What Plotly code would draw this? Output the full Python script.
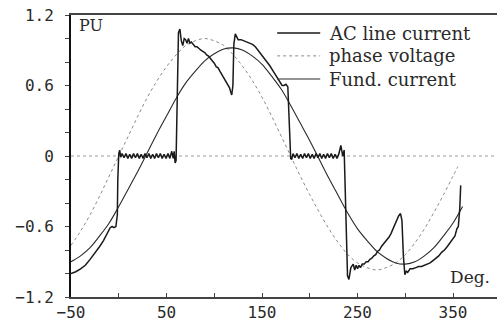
import plotly.graph_objects as go

# ---------------- data ----------------
volt_deg = [-50, -40, -30, -20, -10, 0, 10, 20, 30, 40, 50, 60, 70, 80, 90, 100,
            110, 120, 130, 140, 150, 160, 170, 180, 190, 200, 210, 220, 230, 240,
            250, 260, 270, 280, 290, 300, 310, 320, 330, 340, 350, 355]
volt_pu = [-0.76, -0.64, -0.50, -0.34, -0.17, 0.00, 0.17, 0.34, 0.50, 0.64, 0.76,
           0.86, 0.94, 0.98, 1.00, 0.98, 0.94, 0.86, 0.76, 0.64, 0.50, 0.34, 0.17,
           0.00, -0.17, -0.33, -0.48, -0.62, -0.74, -0.84, -0.91, -0.95, -0.97,
           -0.95, -0.91, -0.84, -0.74, -0.62, -0.48, -0.33, -0.17, -0.09]

fund_deg = [-50, -40, -30, -20, -10, 0, 10, 20, 30, 40, 50, 60, 70, 80, 90, 100,
            110, 120, 130, 140, 150, 160, 170, 180, 190, 200, 210, 220, 230, 240,
            250, 260, 270, 280, 290, 300, 310, 320, 330, 340, 350, 360]
fund_pu = [-0.90, -0.85, -0.78, -0.68, -0.57, -0.43, -0.28, -0.13, 0.03, 0.19,
           0.34, 0.49, 0.62, 0.72, 0.81, 0.87, 0.91, 0.92, 0.90, 0.85, 0.78, 0.68,
           0.57, 0.43, 0.28, 0.13, -0.03, -0.19, -0.34, -0.49, -0.62, -0.72,
           -0.81, -0.87, -0.91, -0.92, -0.90, -0.85, -0.78, -0.68, -0.57, -0.43]

line_deg = [-50, -45, -40, -35, -30, -25, -20, -16, -12, -9, -7, -5, -3, -1.5, -1,
            0, 1, 2, 3.5, 5.5, 7.5, 9.5, 11.5, 13.5, 15.5, 17.5, 19.5, 21.5, 23.5,
            25.5, 27.5, 29.5, 31.5, 33.5, 35.5, 37.5, 39.5, 41.5, 43.5, 45.5, 47.5,
            49.5, 51.5, 53.5, 55.5, 57, 58, 59, 60, 61, 62.5, 64, 65.5, 67, 68.5,
            70, 71.5, 73, 74.5, 76, 78, 80, 82, 84, 86, 88, 90, 92, 94, 96, 98, 100,
            102, 104, 106, 108, 110, 112, 114, 116, 117, 118.3, 119.5, 120.5, 122,
            123.5, 125, 128, 131, 134, 137, 140, 143, 146, 149, 152, 155, 158, 161,
            164, 167, 169, 171, 173, 175, 177, 178, 179, 180, 181, 182.5, 184.5,
            186.5, 188.5, 190.5, 192.5, 194.5, 196.5, 198.5, 200.5, 202.5, 204.5,
            206.5, 208.5, 210.5, 212.5, 214.5, 216.5, 218.5, 220.5, 222.5, 224.5,
            226.5, 228.5, 230.5, 232.5, 234.5, 236, 237, 238.5, 239.5, 241, 243,
            245.5, 247, 248.5, 250, 251.5, 253, 255, 257, 259, 261, 263, 265, 267,
            269, 271, 273, 275, 277, 279, 281, 283, 285, 287, 289, 291, 293, 295,
            296.5, 298, 299.5, 301, 302.5, 305, 308, 311, 314, 317, 320, 323, 326,
            329, 332, 335, 338, 341, 344, 347, 350, 352, 354, 355.5, 357, 358, 359]
line_pu = [-1.00, -0.985, -0.96, -0.93, -0.88, -0.83, -0.77, -0.72, -0.66, -0.61,
           -0.60, -0.61, -0.60, -0.50, -0.20, 0.02, 0.05, -0.01, 0.02, -0.015, 0.02,
           -0.02, 0.015, -0.02, 0.02, -0.015, 0.02, -0.02, 0.015, -0.02, 0.02,
           -0.015, 0.02, -0.02, 0.015, -0.02, 0.02, -0.015, 0.02, -0.02, 0.015,
           -0.02, 0.02, -0.02, 0.04, -0.02, 0.04, -0.06, -0.04, 0.50, 1.05, 1.08,
           0.98, 0.94, 1.00, 0.99, 0.96, 1.00, 0.96, 0.97, 0.95, 0.93, 0.93, 0.91,
           0.90, 0.89, 0.88, 0.86, 0.85, 0.83, 0.81, 0.79, 0.76, 0.75, 0.72, 0.69,
           0.67, 0.64, 0.61, 0.58, 0.55, 0.52, 0.60, 0.95, 1.04, 1.02, 0.99, 0.99,
           0.98, 0.97, 0.96, 0.95, 0.93, 0.90, 0.87, 0.84, 0.80, 0.77, 0.73, 0.69,
           0.65, 0.62, 0.60, 0.60, 0.61, 0.59, 0.40, 0.10, -0.02, -0.03, 0.02,
           -0.015, 0.02, -0.02, 0.015, -0.02, 0.02, -0.015, 0.02, -0.02, 0.015,
           -0.02, 0.02, -0.015, 0.02, -0.02, 0.015, -0.02, 0.02, -0.015, 0.02,
           -0.02, 0.015, -0.02, 0.02, 0.09, 0.00, 0.05, -0.30, -0.90, -1.02, -1.05,
           -0.95, -0.92, -0.97, -0.93, -0.96, -0.93, -0.95, -0.92, -0.92, -0.90,
           -0.90, -0.88, -0.87, -0.85, -0.84, -0.81, -0.80, -0.77, -0.75, -0.74,
           -0.71, -0.69, -0.66, -0.62, -0.58, -0.55, -0.51, -0.49, -0.55, -0.85,
           -1.01, -0.98, -0.99, -0.96, -0.96, -0.95, -0.94, -0.94, -0.93, -0.92,
           -0.91, -0.89, -0.87, -0.85, -0.82, -0.80, -0.77, -0.74, -0.71, -0.68,
           -0.62, -0.60, -0.45, -0.25]

x_ticks = [-50, 0, 50, 100, 150, 200, 250, 300, 350]
x_labels = ["\u221250", "", "50", "", "150", "", "250", "", "350"]
y_ticks = [-1.2, -1.0, -0.8, -0.6, -0.4, -0.2, 0.0, 0.2, 0.4, 0.6, 0.8, 1.0, 1.2]
y_labels = ["\u22121.2", "", "", "\u22120.6", "", "", "0", "", "", "0.6", "", "", "1.2"]

legend_names = ["AC line current", "phase voltage", "Fund. current"]

# ---------------- styles ----------------
AC_STYLE = dict(color="#1a1a1a", width=1.5)
V_STYLE = dict(color="#8a8a8a", width=1.0, dash="dot")
F_STYLE = dict(color="#2a2a2a", width=1.1)
TXT = "DejaVu Serif"

fig = go.Figure()
fig.add_trace(go.Scatter(x=volt_deg, y=volt_pu, mode="lines", line=V_STYLE,
                         line_shape="spline", name=legend_names[1]))
fig.add_trace(go.Scatter(x=fund_deg, y=fund_pu, mode="lines", line=F_STYLE,
                         line_shape="spline", name=legend_names[2]))
fig.add_trace(go.Scatter(x=line_deg, y=line_pu, mode="lines", line=AC_STYLE,
                         name=legend_names[0]))

# dotted zero reference line
fig.add_shape(type="line", xref="paper", yref="y", x0=0, x1=1, y0=0, y1=0,
              line=dict(color="#9a9a9a", width=1, dash="dot"), layer="below")

# manual legend (paper coordinates)
rows = [0.936, 0.855, 0.773]
styles = [AC_STYLE, V_STYLE, F_STYLE]
for name, yy, st in zip(legend_names, rows, styles):
    fig.add_shape(type="line", xref="paper", yref="paper", x0=0.484, x1=0.585,
                  y0=yy, y1=yy, line=st)
    fig.add_annotation(x=0.601, y=yy, xref="paper", yref="paper", text=name,
                       showarrow=False, xanchor="left", yanchor="middle",
                       font=dict(family=TXT, size=18, color="#2a2a2a"))

fig.add_annotation(x=0.014, y=0.961, xref="paper", yref="paper", text="PU",
                   showarrow=False, xanchor="left", yanchor="middle",
                   font=dict(family=TXT, size=16, color="#2a2a2a"))
fig.add_annotation(x=0.885, y=0.071, xref="paper", yref="paper", text="Deg.",
                   showarrow=False, xanchor="left", yanchor="middle",
                   font=dict(family=TXT, size=17, color="#2a2a2a"))

fig.update_layout(
    width=499, height=323,
    margin=dict(l=71, r=2, t=15, b=26),
    paper_bgcolor="white", plot_bgcolor="white",
    showlegend=False,
    font=dict(family="DejaVu Sans Mono", size=16, color="#2a2a2a"),
)
fig.update_xaxes(range=[-50, 396], showgrid=False, zeroline=False,
                 showline=True, linecolor="#444444", linewidth=1.5, mirror=True,
                 ticks="inside", ticklen=4, tickcolor="#444444",
                 tickvals=x_ticks, ticktext=x_labels)
fig.update_yaxes(range=[-1.2, 1.2], showgrid=False, zeroline=False,
                 showline=True, linecolor="#111111", linewidth=2,
                 ticks="outside", ticklen=4, tickcolor="#444444",
                 tickvals=y_ticks, ticktext=y_labels, ticklabelstandoff=8)

fig.write_html("out.html")
